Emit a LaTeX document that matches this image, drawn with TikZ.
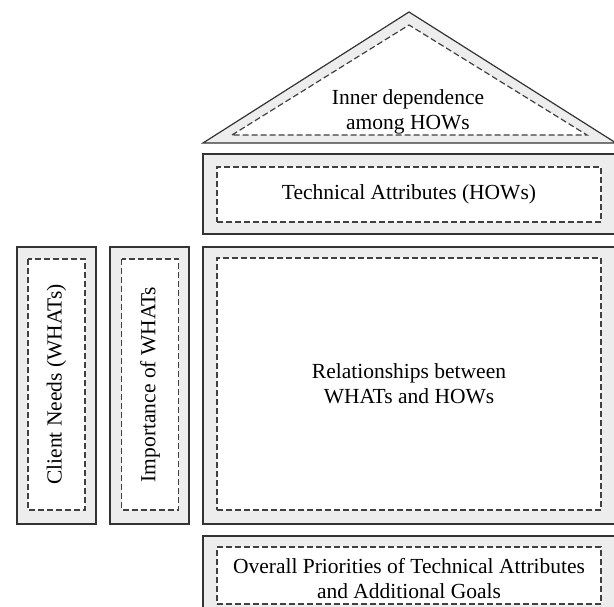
\documentclass[tikz,border=0pt]{standalone}
\usepackage{fontspec}
\setmainfont{Liberation Serif}
\usetikzlibrary{positioning}

\begin{document}
\begin{tikzpicture}[x=1pt, y=-1pt,
			outerpart/.style = {draw=black!80, fill=black!7, line width=1.2pt},
			innerpart/.style = {draw=black!75, fill=white, dash pattern=on 6pt off 3pt, line width=1.2pt, text centered, align=center, inner sep=0pt, font=\fontsize{21.5}{25}\selectfont},
			sidepart/.style = {innerpart, rotate=90, minimum width=251, minimum height=57},
			plaintext/.style = {align=center, inner sep=0pt, font=\fontsize{21.5}{25}\selectfont},
		]

		\clip (0,0) rectangle (614,607);

		% outer frames
		\draw[outerpart] (203,143) -- (409,12) -- (616,143) -- cycle;
		\draw[outerpart] (203,154) rectangle (622,234);
		\draw[outerpart] (203,247) rectangle (622,524);
		\draw[outerpart] (203,536) rectangle (622,622);
		\draw[outerpart] (17,247) rectangle (96,524);
		\draw[outerpart] (110,247) rectangle (189,524);

		% roof
		\draw[innerpart] (232,135) -- (409,25) -- (587,135) -- cycle;
		\node[plaintext](roof) at (408,112){Inner dependence\\among HOWs};

		\node[innerpart, minimum width=384, minimum height=55](hows) at (409,194.5){Technical Attributes (HOWs)};
		\node[innerpart, minimum width=384, minimum height=252](rel) at (409,384){Relationships between\\WHATs and HOWs};
		\node[innerpart, minimum width=384, minimum height=57](prio) at (409,575.5){};
		\node[plaintext](priotext) at (409,578.5){Overall Priorities of Technical Attributes\\and Additional Goals};
		\node[sidepart](whats) at (56.5,384.5){Client Needs (WHATs)};
		\node[sidepart](imp) at (150,384.5){Importance of WHATs};

	\end{tikzpicture}
\end{document}
